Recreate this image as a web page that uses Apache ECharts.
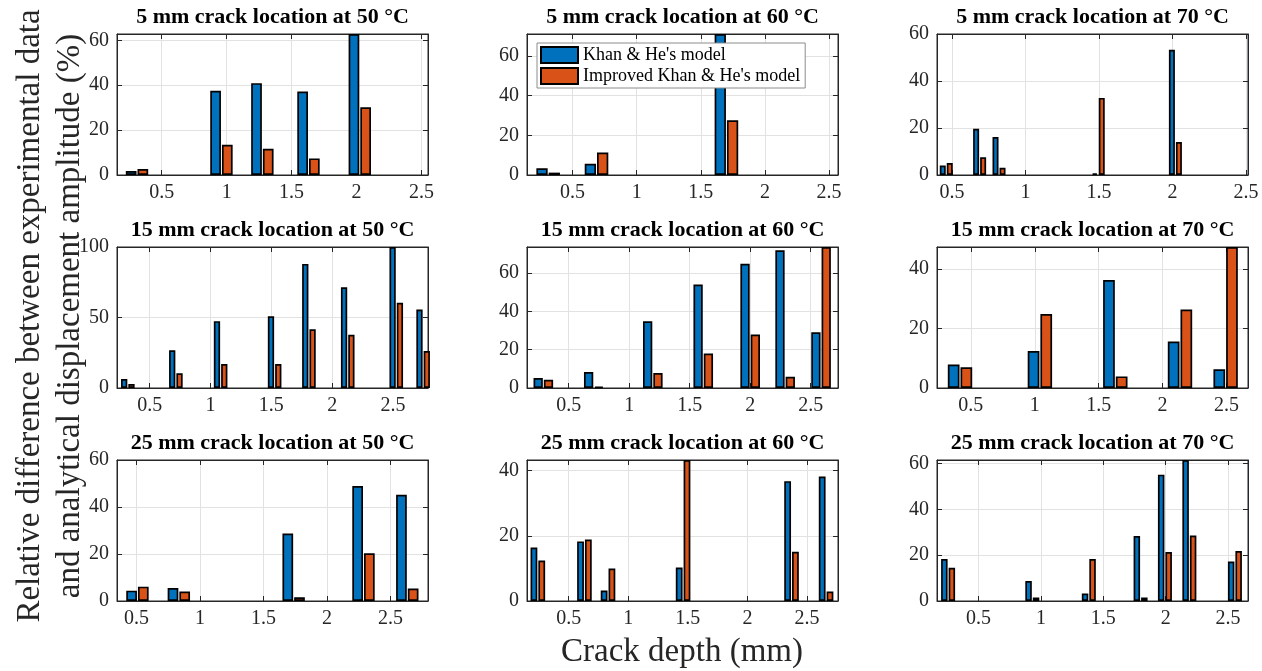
<!DOCTYPE html>
<html><head><meta charset="utf-8">
<script src="https://cdn.jsdelivr.net/npm/echarts@6/dist/echarts.min.js"></script>
<style>html,body{margin:0;padding:0;background:#fff}#c{width:1262px;height:671px}</style>
</head><body><div id="c"></div>
<script>
// ---------------- DATA ----------------
const titles = [
  '5 mm crack location at 50 °C', '5 mm crack location at 60 °C', '5 mm crack location at 70 °C',
  '15 mm crack location at 50 °C', '15 mm crack location at 60 °C', '15 mm crack location at 70 °C',
  '25 mm crack location at 50 °C', '25 mm crack location at 60 °C', '25 mm crack location at 70 °C'
];
const seriesNames = ["Khan & He's model", "Improved Khan & He's model"];

// crack depths (mm) for each panel
const depth5at50  = [0.31, 0.96, 1.275, 1.63, 2.025];
const depth5at60  = [0.31, 0.687, 1.70];
const depth5at70  = [0.461, 0.688, 0.82, 1.495, 2.02];
const depth15at50 = [0.32, 0.715, 1.083, 1.527, 1.809, 2.128, 2.527, 2.748];
const depth15at60 = [0.29, 0.707, 1.195, 1.612, 2.0, 2.289, 2.586];
const depth15at70 = [0.415, 1.04, 1.63, 2.136, 2.493];
const depth25at50 = [0.508, 0.834, 1.738, 2.288, 2.633];
const depth25at60 = [0.241, 0.632, 0.83, 1.46, 2.37, 2.66];
const depth25at70 = [0.256, 0.931, 1.384, 1.799, 1.994, 2.19, 2.555];

// Khan & He's model (%)
const khan5at50  = [1.8, 37.5, 40.9, 37.2, 62.8];
const khan5at60  = [3.4, 5.7, 71];
const khan5at70  = [4.0, 19.7, 16.2, 0.7, 53.3];
const khan15at50 = [6.4, 26.7, 47.4, 50.9, 88, 71.5, 100, 55.7];
const khan15at60 = [5.2, 8.3, 34.8, 53.9, 64.8, 71.8, 29.1];
const khan15at70 = [7.9, 12.4, 36.3, 15.6, 6.3];
const khan25at50 = [4.4, 5.5, 28.7, 48.9, 45.2];
const khan25at60 = [16.4, 18.3, 3.2, 10.3, 36.8, 38.2];
const khan25at70 = [18.3, 8.7, 3.3, 28.3, 55.1, 61.5, 17.2];

// Improved Khan & He's model (%)
const impr5at50  = [2.7, 13.5, 11.7, 7.4, 30.2];
const impr5at60  = [1.2, 11.3, 27.6];
const impr5at70  = [5.1, 7.5, 3.1, 32.8, 14.0];
const impr15at50 = [2.8, 10.4, 17, 17, 41.7, 37.7, 60.4, 26.2];
const impr15at60 = [4.3, 0.7, 7.8, 18, 27.9, 5.9, 73.5];
const impr15at70 = [7.0, 24.9, 3.9, 26.4, 47.4];
const impr25at50 = [6.1, 4.0, 1.6, 20.3, 5.3];
const impr25at60 = [12.4, 18.9, 10.0, 43.3, 15.1, 2.9];
const impr25at70 = [14.5, 1.5, 18.3, 1.5, 21.4, 28.6, 21.8];

// axis ticks
const xTickStep = 0.5;
const yTickStep = [20, 20, 20, 50, 20, 20, 20, 20, 20];
// axis limits (null = tight to data)
const xLimits = [[0.156, 2.55], [0.145, 2.57], [0.398, 2.514], [0.231, 2.788], [0.155, 2.726],
                 [0.235, 2.668], [0.347, 2.796], [0.15, 2.76], [0.167, 2.66]];
const yUpper = [null, null, 60, null, null, null, 60, null, null];

// ---------------- LAYOUT / STYLE ----------------
const FONT = "'Liberation Serif', 'Times New Roman', serif";
const BLUE = '#0072BD', ORANGE = '#D95319', AX = '#262626', GRIDC = '#e2e2e2';
const colLeft = [117, 527, 937], rowTop = [34, 247, 460], titleTop = [6, 219, 432];
const W = 311, H = 141;
const BORDER = 1.7;
const outerBarW = [10.7, 11.3, 6.0, 6.3, 9.3, 11.7, 10.7, 6.8, 6.5];

const depths = [depth5at50, depth5at60, depth5at70, depth15at50, depth15at60, depth15at70, depth25at50, depth25at60, depth25at70];
const khan = [khan5at50, khan5at60, khan5at70, khan15at50, khan15at60, khan15at70, khan25at50, khan25at60, khan25at70];
const impr = [impr5at50, impr5at60, impr5at70, impr15at50, impr15at60, impr15at70, impr25at50, impr25at60, impr25at70];

const onStep = (v, s) => Math.abs(v / s - Math.round(v / s)) < 1e-6;

const grid = [], xAxis = [], yAxis = [], series = [], title = [];
for (let i = 0; i < 9; i++) {
  const r = Math.floor(i / 3), c = i % 3;
  const yMax = yUpper[i] != null ? yUpper[i] : Math.max(...khan[i], ...impr[i]);
  grid.push({left: colLeft[c], top: rowTop[r], width: W, height: H, show: true,
    borderColor: AX, borderWidth: 1, backgroundColor: '#fff'});
  const tick = {show: true, inside: true, length: 5, lineStyle: {color: AX, width: 1}};
  const line = {show: true, onZero: false, lineStyle: {color: AX, width: 1}};
  xAxis.push({type: 'value', gridIndex: i, min: xLimits[i][0], max: xLimits[i][1], splitNumber: 5,
    axisLine: line, axisTick: tick,
    axisLabel: {color: AX, fontFamily: FONT, fontSize: 20, margin: 8,
      formatter: v => onStep(v, xTickStep) ? String(+v.toFixed(2)) : ''},
    splitLine: {show: true, lineStyle: {color: GRIDC, width: 1}}});
  xAxis.push({type: 'value', gridIndex: i, position: 'top', min: xLimits[i][0], max: xLimits[i][1], splitNumber: 5,
    axisLine: line, axisTick: tick, axisLabel: {show: false}, splitLine: {show: false}});
  yAxis.push({type: 'value', gridIndex: i, min: 0, max: yMax, interval: yTickStep[i],
    axisLine: line, axisTick: tick,
    axisLabel: {color: AX, fontFamily: FONT, fontSize: 20, margin: 8,
      formatter: v => onStep(v, yTickStep[i]) ? String(v) : ''},
    splitLine: {show: true, lineStyle: {color: GRIDC, width: 1}}});
  yAxis.push({type: 'value', gridIndex: i, position: 'right', min: 0, max: yMax, interval: yTickStep[i],
    axisLine: line, axisTick: tick, axisLabel: {show: false}, splitLine: {show: false}});
  // ECharts draws the border inside the bar width, so barWidth is the outer width
  const bw = outerBarW[i];
  const gapPct = (1.0 / bw * 100).toFixed(1) + '%';
  const common = {type: 'bar', xAxisIndex: 2 * i, yAxisIndex: 2 * i, barWidth: bw, barGap: gapPct, animation: false};
  series.push(Object.assign({}, common, {name: seriesNames[0],
    data: depths[i].map((d, k) => [d, khan[i][k]]),
    itemStyle: {color: BLUE, borderColor: '#000', borderWidth: BORDER}}));
  series.push(Object.assign({}, common, {name: seriesNames[1],
    data: depths[i].map((d, k) => [d, impr[i][k]]),
    itemStyle: {color: ORANGE, borderColor: '#000', borderWidth: BORDER}}));
  title.push({text: titles[i], left: colLeft[c] + W / 2, top: titleTop[r], textAlign: 'center', padding: 0,
    textStyle: {fontFamily: FONT, fontSize: 22, fontWeight: 'bold', color: '#000'}});
}

const chart = echarts.init(document.getElementById('c'), null, {renderer: 'canvas'});
chart.setOption({
  backgroundColor: '#fff',
  animation: false,
  title, grid, xAxis, yAxis, series,
  legend: {show: true, orient: 'vertical', left: 537, top: 43, itemWidth: 37, itemHeight: 16, itemGap: 3,
    padding: [3, 5, 3, 3], backgroundColor: '#fff', borderColor: '#8c8c8c', borderWidth: 1,
    icon: 'rect', selectedMode: false, data: seriesNames,
    textStyle: {fontFamily: FONT, fontSize: 18, color: '#000'}},
  graphic: [
    {type: 'text', x: 50, y: 316, rotation: Math.PI / 2,
      style: {text: 'Relative difference between experimental data\nand analytical displacement amplitude (%)',
        fontFamily: FONT, fontSize: 33, lineHeight: 40, fill: AX, align: 'center', verticalAlign: 'middle'}},
    {type: 'text', x: 682, y: 652,
      style: {text: 'Crack depth (mm)', fontFamily: FONT, fontSize: 33, fill: AX, align: 'center', verticalAlign: 'middle'}}
  ]
});
</script></body></html>
